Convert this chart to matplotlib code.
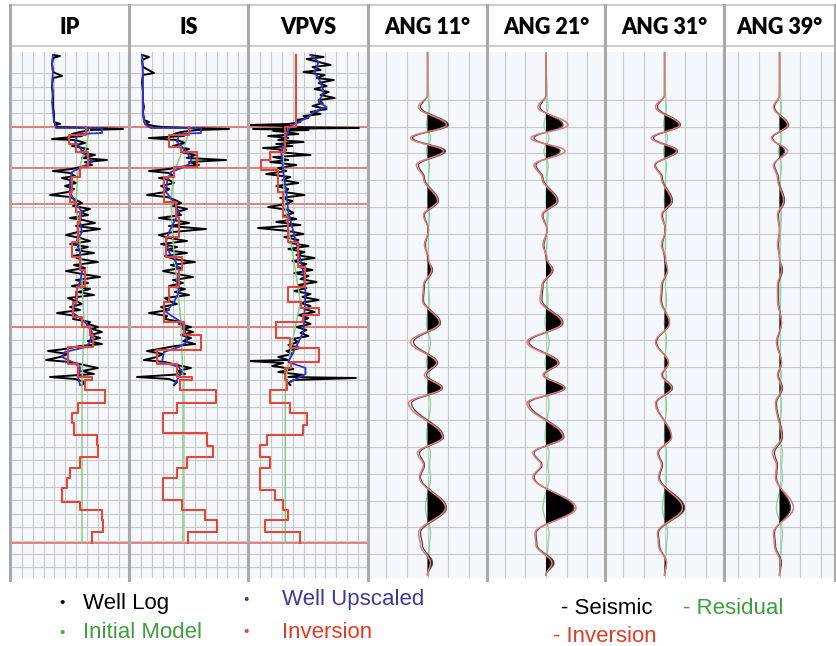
import numpy as np
import matplotlib.pyplot as plt
from matplotlib.lines import Line2D

W, H = 836, 646

# depth axis: two-way time below the top of the display window (ms)
horizons = [75, 116, 152, 275, 491]

# ---- well logs: (twt, value) pairs, value in display units of each track (0-119)
ip_log = [(3, 43), (4, 50), (6, 43), (12, 42), (20, 43), (24, 52), (26, 43), (35, 42), (45, 43),
          (55, 43), (62, 44), (70, 44), (72, 50), (73, 45), (75, 47),
          (76, 85), (77, 113), (78, 80), (80, 70), (82, 62), (84, 72), (87, 42), (88, 65), (91, 75),
          (94, 62), (97, 78), (100, 70), (103, 85), (106, 72), (108, 97), (110, 75), (113, 82),
          (115, 70), (117, 62), (119, 43), (121, 60), (124, 65), (126, 52), (128, 60), (131, 66),
          (134, 55), (137, 64), (140, 58), (143, 40), (145, 60), (148, 66), (151, 72), (154, 63),
          (157, 80), (160, 70), (163, 78), (166, 60), (168, 73), (171, 85), (174, 66), (177, 90),
          (180, 68), (183, 56), (186, 70), (189, 80), (192, 60), (195, 78), (198, 66), (201, 84),
          (204, 62), (207, 70), (210, 88), (213, 64), (216, 75), (219, 56), (222, 72), (225, 90),
          (228, 66), (231, 78), (234, 62), (237, 80), (240, 68), (243, 84), (246, 58), (249, 66),
          (252, 72), (255, 60), (258, 70), (261, 47), (264, 66), (267, 63), (270, 80), (272, 78),
          (275, 88), (277, 82), (280, 92), (283, 80), (286, 90), (289, 78), (292, 92), (294, 70),
          (297, 55), (299, 38), (302, 58), (305, 50), (308, 36), (310, 60), (313, 74), (316, 88),
          (319, 72), (322, 84), (325, 40), (327, 65), (330, 75), (333, 72)]
is_log = [(3, 13), (5, 20), (8, 13), (15, 14), (21, 25), (23, 14), (30, 13), (40, 14), (50, 14),
          (55, 15), (60, 14), (68, 15), (70, 20), (72, 16), (74, 25), (75, 33),
          (76, 60), (77, 100), (78, 68), (80, 52), (82, 45), (84, 55), (86, 20), (88, 48), (91, 56),
          (94, 44), (97, 60), (100, 52), (103, 66), (106, 58), (108, 97), (110, 60), (113, 70),
          (115, 50), (117, 40), (119, 20), (121, 40), (124, 45), (126, 30), (128, 40), (131, 45),
          (134, 32), (137, 40), (140, 36), (143, 18), (145, 38), (148, 46), (151, 52), (154, 44),
          (157, 58), (160, 48), (163, 52), (166, 30), (168, 45), (171, 60), (174, 40), (177, 77),
          (180, 44), (183, 30), (186, 40), (189, 58), (192, 32), (195, 48), (198, 38), (201, 58),
          (204, 36), (207, 45), (210, 66), (213, 42), (216, 52), (219, 34), (222, 48), (225, 64),
          (228, 44), (231, 54), (234, 40), (237, 56), (240, 46), (243, 60), (246, 36), (249, 40),
          (252, 48), (255, 32), (258, 40), (261, 20), (264, 38), (267, 36), (270, 52), (272, 50),
          (275, 62), (277, 54), (280, 64), (283, 52), (286, 62), (289, 54), (292, 66), (294, 46),
          (297, 30), (299, 18), (302, 34), (305, 28), (308, 15), (310, 36), (313, 48), (316, 62),
          (319, 48), (322, 56), (325, 8), (327, 40), (330, 48), (333, 45)]
vpvs_log = [(3, 62), (5, 75), (7, 58), (10, 70), (13, 82), (15, 64), (18, 72), (20, 55), (23, 76),
            (26, 68), (28, 85), (31, 70), (34, 78), (37, 66), (40, 80), (43, 72), (46, 86), (48, 70),
            (51, 74), (54, 64), (57, 78), (60, 62), (62, 72), (64, 55), (66, 60), (68, 48), (70, 52),
            (72, 40), (73, 0), (74, 42), (75, 35), (76, 110), (77, 5), (78, 60), (79, 25), (80, 38),
            (82, 50), (84, 20), (86, 40), (88, 30), (90, 55), (92, 28), (94, 44), (96, 15), (98, 38),
            (100, 30), (103, 62), (105, 25), (108, 40), (110, 22), (113, 48), (116, 30), (119, 38),
            (122, 18), (125, 42), (128, 34), (131, 50), (134, 28), (137, 40), (140, 36), (143, 56),
            (146, 32), (149, 44), (152, 38), (155, 20), (158, 40), (161, 45), (164, 35), (167, 48),
            (170, 28), (173, 52), (176, 10), (179, 40), (182, 55), (185, 36), (188, 50), (191, 42),
            (194, 60), (197, 40), (200, 56), (203, 48), (206, 66), (209, 44), (212, 58), (215, 50),
            (218, 64), (221, 46), (224, 60), (227, 52), (230, 68), (233, 50), (236, 58), (239, 46),
            (242, 62), (245, 54), (248, 70), (251, 52), (254, 62), (257, 56), (260, 66), (263, 50),
            (266, 60), (269, 54), (272, 62), (275, 48), (278, 58), (281, 52), (284, 60), (287, 44),
            (290, 50), (293, 40), (296, 52), (299, 38), (302, 44), (305, 30), (308, 40), (309, 0),
            (311, 35), (314, 24), (317, 45), (320, 30), (323, 55), (325, 40), (326, 107), (328, 45),
            (331, 40), (333, 42)]

# upscaled logs
ip_up_t = [3, 10, 20, 30, 40, 50, 60, 70, 74, 76, 76, 81, 82, 90, 95, 100, 105, 110, 115, 120,
           130, 140, 150, 160, 170, 180, 190, 200, 210, 220, 230, 240, 250, 260, 270, 280, 290,
           295, 300, 305, 310, 315, 320, 325, 333]
ip_up = [43, 42, 43, 42, 43, 42, 43, 44, 46, 46, 92, 92, 68, 65, 70, 72, 78, 82, 72, 62,
         60, 60, 65, 72, 70, 72, 66, 70, 70, 72, 70, 66, 66, 62, 75, 82, 80,
         76, 55, 52, 62, 70, 70, 68, 70]
is_up_t = [3, 20, 40, 60, 70, 74, 76, 76, 81, 82, 90, 100, 110, 115, 120, 130, 140, 150, 160, 170,
           180, 190, 200, 210, 220, 230, 240, 250, 260, 270, 280, 290, 295, 300, 310, 315, 320, 333]
is_up = [13, 14, 14, 14, 15, 18, 22, 72, 72, 50, 48, 58, 63, 55, 42, 38, 37, 45, 50, 45,
         40, 37, 40, 47, 50, 48, 50, 45, 37, 52, 56, 58, 50, 35, 33, 50, 53, 45]
vpvs_up_t = [3, 10, 20, 30, 40, 50, 55, 60, 65, 70, 74, 78, 85, 100, 120, 140, 160, 180, 200, 220,
             240, 260, 280, 290, 300, 310, 316, 322, 330]
vpvs_up = [62, 70, 66, 72, 75, 70, 78, 65, 60, 50, 42, 40, 38, 33, 35, 38, 40, 45, 50, 55,
           57, 56, 55, 50, 45, 40, 57, 57, 42]

# initial (low-frequency) models
ip_init_t = [75, 95, 120, 150, 190, 230, 270, 300, 330, 491]
ip_init = [80, 76, 68, 66, 70, 72, 74, 73, 72, 72]
is_init_t = [75, 95, 120, 150, 190, 230, 270, 300, 330, 491]
is_init = [62, 55, 45, 42, 44, 48, 52, 53, 54, 54]
vpvs_init_t = [75, 100, 150, 200, 250, 300, 330, 491]
vpvs_init = [40, 35, 36, 44, 52, 42, 37, 37]

# inversion result: block boundaries and block values
ip_inv_b = [75, 83, 92, 100, 115, 125, 140, 150, 160, 170, 190, 205, 218, 235, 250, 265, 275, 283,
            295, 312, 325, 328, 338, 351, 361, 371, 383, 393, 405, 416, 426, 436, 450, 458, 468,
            480, 491]
ip_inv = [76, 59, 66, 78, 70, 62, 60, 66, 70, 68, 62, 70, 75, 67, 63, 72, 80, 83, 58, 68,
          82, 75, 95, 68, 62, 64, 87, 88, 70, 60, 57, 52, 70, 92, 93, 82]
is_inv_b = [75, 83, 95, 100, 115, 125, 150, 165, 185, 205, 218, 235, 250, 270, 283, 298, 312, 325,
            328, 338, 351, 361, 381, 394, 405, 416, 426, 448, 458, 468, 480, 491]
is_inv = [60, 40, 52, 68, 45, 35, 47, 50, 37, 53, 50, 40, 35, 55, 72, 28, 48, 63, 51, 87,
          48, 34, 78, 84, 58, 48, 34, 53, 76, 88, 59]
vpvs_inv_b = [3, 75, 100, 108, 118, 140, 165, 190, 215, 235, 250, 256, 263, 270, 286, 296, 310,
              316, 328, 338, 351, 361, 373, 383, 393, 405, 416, 438, 448, 458, 468, 480, 491]
vpvs_inv = [48, 37, 22, 13, 30, 35, 40, 50, 57, 40, 53, 70, 55, 28, 42, 70, 43, 37, 39, 22,
            42, 59, 55, 19, 12, 22, 12, 27, 35, 40, 17, 52]

# ---- angle gathers: extrema times shared by all traces, amplitudes per angle
seis_t = [1, 43, 55, 73, 86, 99, 113, 126, 149, 163, 178, 193, 206, 218, 233, 248, 271, 290, 311,
          323, 336, 351, 385, 401, 413, 425, 456, 481, 493, 511, 523]
angles = ["ANG 11°", "ANG 21°", "ANG 31°", "ANG 39°"]
seis_amp = [
    [0, 0, -7, 21, -15, 18, -9, -3, 11, -3, 1, -2, 0, 5, -3, -4, 13, -14, 10, -1, 15, -16, 16, -8, -3, -7, 19, -7, -5, 5, 0],
    [0, 0, -6, 17, -12, 14, -10, -3, 12, -3, 1, -2, 0, 7, -3, -4, 17, -17, 13, -2, 19, -17, 18, -12, -4, -12, 28, -10, -9, 8, 0],
    [0, 0, -7, 16, -11, 13, -9, -2, 8, -2, 1, -2, 0, 3, -2, -3, 5, -8, 4, -2, 8, -8, 7, -6, -2, -5, 20, -6, -5, 2, 0],
    [0, 0, -5, 9, -7, 5, -5, -1, 5, -1, 0, -1, 0, 3, -1, -1, 2, -2, 2, -1, 3, -3, 3, -5, -2, -3, 11, -5, -4, 2, 0],
]
inv_amp = [
    [0, 0, -9, 19, -17, 16, -11, -4, 10, -4, 1, -3, 1, 4, -4, -5, 12, -17, 9, -3, 14, -19, 15, -10, -4, -8, 18, -9, -7, 3, 0],
    [0, 0, -8, 22, -15, 19, -12, -4, 11, -4, 1, -3, 1, 6, -4, -6, 16, -19, 12, -3, 18, -19, 17, -13, -5, -13, 30, -11, -10, 6, 0],
    [0, 0, -9, 15, -13, 12, -10, -3, 7, -3, 1, -3, 1, 3, -3, -4, 5, -9, 4, -3, 7, -9, 7, -7, -3, -6, 18, -7, -6, 2, 0],
    [0, 0, -6, 8, -8, 8, -6, -2, 4, -2, 0, -2, 0, 2, -2, -2, 2, -3, 2, -2, 2, -4, 2, -7, -3, -4, 14, -6, -5, 1, 0],
]
res_amp = [
    [0, 1, 2, -1, 3, -1, 2, 1, 0, 2, 1, 1, 0, 2, 1, 2, -1, 3, -1, 2, 0, 3, -1, 3, 2, 3, -2, 3, 2, 1, 0],
    [0, 1, 2, -2, 3, -2, 2, 1, 0, 2, 1, 1, 0, 2, 1, 2, -1, 3, -1, 2, 0, 3, -1, 3, 2, 3, -3, 3, 2, 1, 0],
    [0, 1, 2, -1, 3, -1, 2, 1, 0, 2, 1, 1, 0, 2, 1, 2, 0, 2, 0, 2, 0, 2, 0, 2, 2, 2, -2, 3, 2, 1, 0],
    [0, 1, 2, 0, 2, -1, 2, 1, 0, 2, 1, 1, 0, 1, 1, 1, 0, 1, 0, 2, 0, 2, 0, 3, 2, 3, -3, 3, 2, 1, 0],
]

# ---- layout (pixel edges of the tracks)
edges = [10, 129, 248, 368, 487, 605, 724, 835]
top, bottom = 52, 578
log_names = ["IP", "IS", "VPVS"]

BG = "#f5f8fb"
GRID = "#c9c9cc"
SEP = "#a9a9a9"


def box(x0, x1, y0, y1):
    return [x0 / W, 1 - y1 / H, (x1 - x0) / W, (y1 - y0) / H]


def cosine_path(tp, ap, n=24):
    # smooth wiggle through the picked extrema
    tt, aa = [], []
    for i in range(len(tp) - 1):
        s = np.linspace(0, 1, n, endpoint=False)
        tt.append(tp[i] + (tp[i + 1] - tp[i]) * s)
        aa.append(ap[i] + (ap[i + 1] - ap[i]) * (1 - np.cos(np.pi * s)) / 2)
    tt.append([tp[-1]])
    aa.append([ap[-1]])
    return np.concatenate(tt), np.concatenate(aa)


fig = plt.figure(figsize=(W / 100, H / 100), dpi=100)
plt.rcParams["font.family"] = ["Liberation Sans", "DejaVu Sans"]

titles = log_names + angles
for i, name in enumerate(titles):
    hx = fig.add_axes(box(edges[i], edges[i + 1], 5, 46))
    hx.set_xticks([])
    hx.set_yticks([])
    for s in hx.spines.values():
        s.set_color("#c4c4c4")
        s.set_linewidth(1.2)
    hx.text(0.5, 0.44, name, ha="center", va="center", fontsize=15.5,
            fontweight="heavy", family=["Lato", "DejaVu Sans"], transform=hx.transAxes)

logs = [
    (ip_log, ip_up_t, ip_up, ip_init_t, ip_init, ip_inv_b, ip_inv),
    (is_log, is_up_t, is_up, is_init_t, is_init, is_inv_b, is_inv),
    (vpvs_log, vpvs_up_t, vpvs_up, vpvs_init_t, vpvs_init, vpvs_inv_b, vpvs_inv),
]

for i, (lg, ut, uv, it, iv, ib, ivv) in enumerate(logs):
    ax = fig.add_axes(box(edges[i], edges[i + 1], top, bottom))
    ax.set_facecolor(BG)
    ax.set_xlim(0, 119)
    ax.set_ylim(526, 0)
    for x in np.arange(12, 118, 10.8):
        ax.axvline(x, color=GRID, lw=0.8, zorder=0)
    for y in np.arange(21.3, 526, 13.35):
        ax.axhline(y, color=GRID, lw=0.8, zorder=0)
    for y in horizons:
        ax.axhline(y, color="#e07b72", lw=1.3, zorder=1)
    lt, lv = zip(*lg)
    ax.plot(lv, lt, color="black", lw=1.4, zorder=2)
    ax.plot(iv, it, color="#86cc86", lw=1.1, zorder=3)
    ax.plot(uv, ut, color="#3434c4", lw=1.3, zorder=4)
    ax.plot(np.repeat(ivv, 2), np.repeat(ib, 2)[1:-1], color="#e3463a", lw=1.5, zorder=5)
    ax.set_xticks([])
    ax.set_yticks([])
    for s in ax.spines.values():
        s.set_visible(False)

for k in range(4):
    i = k + 3
    ax = fig.add_axes(box(edges[i], edges[i + 1], top, bottom))
    ax.set_facecolor(BG)
    half = (edges[i + 1] - edges[i]) / 2
    ax.set_xlim(-half, half)
    ax.set_ylim(526, 0)
    for x in np.arange(-41.4, 42, 20.7):
        ax.axvline(x, color=GRID, lw=0.8, zorder=0)
    for y in np.arange(48, 526, 26.7):
        ax.axhline(y, color=GRID, lw=0.8, zorder=0)

    tt, sa = cosine_path(seis_t, seis_amp[k])
    _, ia = cosine_path(seis_t, inv_amp[k])
    _, ra = cosine_path(seis_t, res_amp[k])
    ax.fill_betweenx(tt, 0, sa, where=sa > 0, color="black", interpolate=True, lw=0, zorder=3)
    ax.plot(ra, tt, color="#8fd49a", lw=1.0, zorder=2)
    ax.plot(sa, tt, color="#4a4a4a", lw=0.9, zorder=4)
    ax.plot(ia, tt, color="#e07878", lw=1.1, zorder=5)
    ax.set_xticks([])
    ax.set_yticks([])
    for s in ax.spines.values():
        s.set_visible(False)

# track separators
for x in edges:
    fig.add_artist(Line2D([x / W, x / W], [1 - 580 / H, 1 - 5 / H], color=SEP, lw=2.2))

# legend
items = [
    (62, 603, 83, "Well Log", "black", "black"),
    (62, 633, 83, "Initial Model", "#4aa84a", "#3f9e3f"),
    (246, 600, 282, "Well Upscaled", "#3b3ba0", "#3a3a9c"),
    (246, 632, 282, "Inversion", "#e8402a", "#e23b24"),
]
for bx, by, tx, label, bc, tc in items:
    fig.text(bx / W, 1 - by / H, "•", color=bc, fontsize=11, ha="center", va="center")
    fig.text(tx / W, 1 - by / H, label, color=tc, fontsize=16, ha="left", va="center")
fig.text(561 / W, 1 - 608 / H, "- Seismic", color="black", fontsize=16, va="center")
fig.text(683 / W, 1 - 608 / H, "- Residual", color="#3f9e3f", fontsize=16, va="center")
fig.text(553 / W, 1 - 636 / H, "- Inversion", color="#e23b24", fontsize=16, va="center")

fig.savefig("out.png", dpi=100, facecolor="white")
